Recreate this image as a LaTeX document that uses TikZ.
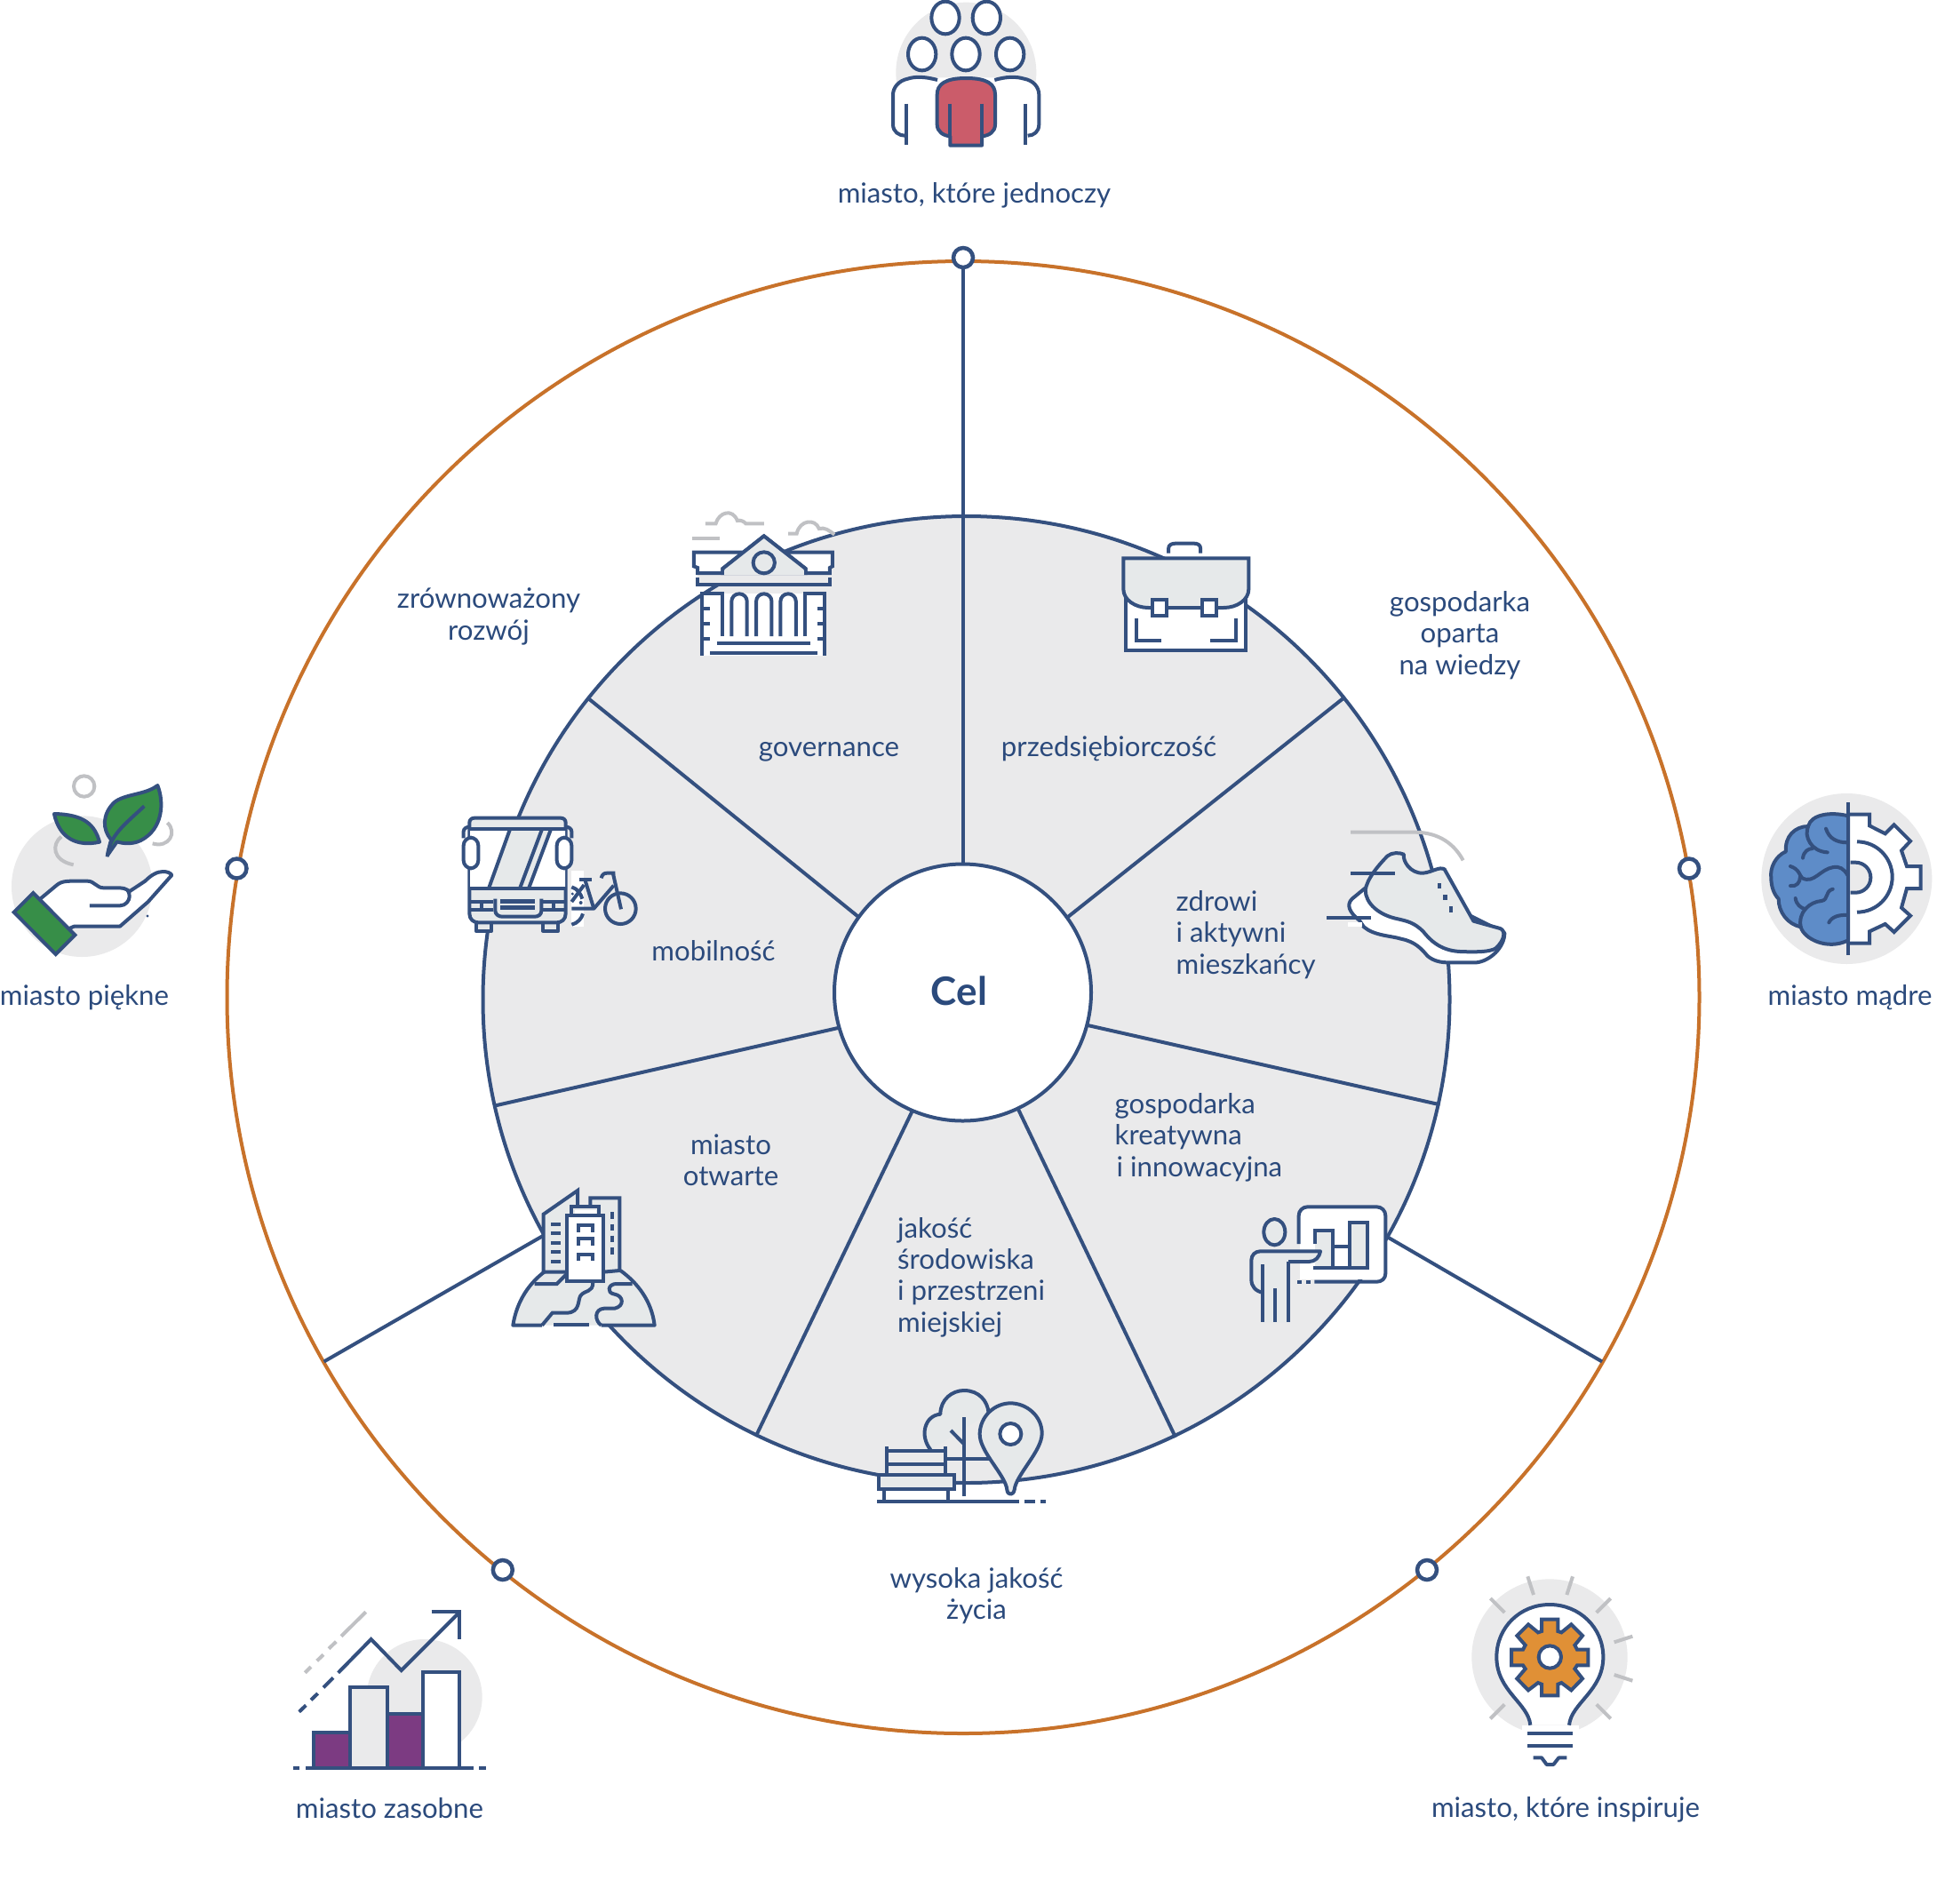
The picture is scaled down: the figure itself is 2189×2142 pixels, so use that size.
\documentclass[tikz,border=0pt]{standalone}
\usepackage{fontspec}
\setmainfont{Lato}
\definecolor{navy}{HTML}{34507F}
\definecolor{tnavy}{HTML}{2B4A7C}
\definecolor{ornge}{HTML}{C8722A}
\definecolor{disc}{HTML}{EAEAEB}
\definecolor{lite}{HTML}{E6E9EA}
\definecolor{gry}{HTML}{C0C1C4}
\definecolor{rd}{HTML}{CB5C6A}
\definecolor{grn}{HTML}{378E48}
\definecolor{prp}{HTML}{7C3B82}
\definecolor{blu}{HTML}{5E8CC8}
\definecolor{gearo}{HTML}{E09036}
\tikzset{
 zm/.style n args={3}{shift={(#1,#2)},x=#3pt,y=-#3pt},
 ln/.style={draw=navy,line width=4pt},
 gl/.style={draw=gry,line width=4pt},
 ic/.style={draw=navy,line width=4pt,line join=round},
 lab/.style={text=tnavy,font=\fontsize{31.2}{35.4}\selectfont,inner sep=0pt},
 joint/.style={circle,draw=navy,fill=white,line width=4.5pt,minimum size=22pt,inner sep=0pt},
}
\begin{document}
\begin{tikzpicture}[x=1pt,y=-1pt]
\useasboundingbox (0,0) rectangle (2189,2142);
\fill[white] (0,0) rectangle (2189,2142);
% rings
\node[circle,draw=ornge,line width=4pt,minimum size=1657pt,inner sep=0pt] (outer) at (1084,1122.5) {};
\node[circle,draw=navy,fill=disc,line width=4pt,minimum size=1088pt,inner sep=0pt] (inner) at (1087.5,1125) {};
% coordinates
\coordinate (t0) at (1084,290);
\coordinate (a1) at (1201.4,1032.4); \coordinate (b1) at (1513,785);
\coordinate (a2) at (1223.8,1153.9); \coordinate (b2) at (1620.5,1243.3);
\coordinate (a3) at (1145.5,1247.5); \coordinate (b3) at (1323,1617.7);
\coordinate (a4) at (1026.8,1250.3); \coordinate (b4) at (850.8,1616.3);
\coordinate (a5) at (944.4,1156.7); \coordinate (b5) at (556,1244.7);
\coordinate (a6) at (966.7,1032.4); \coordinate (b6) at (660.8,785);
\coordinate (c1) at (1561,1392); \coordinate (d1) at (1803,1532.5);
\coordinate (c2) at (611,1391); \coordinate (d2) at (364.6,1532.5);
\coordinate (a0) at (1084,975);
\draw[ln] (t0)--(a0);
\foreach \i in {1,...,6}{\draw[ln] (a\i)--(b\i);}
\draw[ln] (c1)--(d1); \draw[ln] (c2)--(d2);
\node[circle,draw=navy,fill=white,line width=4pt,minimum size=289pt,inner sep=0pt] (cel) at (1083.5,1117) {};
\node[text=tnavy,font=\fontsize{44}{50}\selectfont\bfseries,inner sep=0pt] (celt) at (1079.5,1115) {Cel};
% joints
\node[joint] (j0) at (1084,290) {};
\node[joint] (j1) at (266.5,977.5) {};
\node[joint] (j2) at (1901,977.5) {};
\node[joint] (j3) at (1606,1767) {};
\node[joint] (j4) at (565.8,1767) {};
% labels
\node[lab] (l1) at (1096.5,220) {miasto, które jednoczy};
\node[lab] (l2) at (95,1123) {miasto piękne};
\node[lab] (l3) at (2082,1123) {miasto mądre};
\node[lab] (l4) at (1762,2037) {miasto, które inspiruje};
\node[lab] (l5) at (438.5,2035) {miasto zasobne};
\node[lab,align=center] (l6) at (550,694) {zrównoważony\\rozwój};
\node[lab,align=center] (l7) at (1643,715) {gospodarka\\oparta\\na wiedzy};
\node[lab] (l8) at (933,846) {governance};
\node[lab] (l9) at (1248,843) {przedsiębiorczość};
\node[lab] (l10) at (803,1070) {mobilność};
\node[lab,align=left,anchor=west] (l11) at (1323.5,1052) {zdrowi\\i aktywni\\mieszkańcy};
\node[lab,align=left,anchor=west] (l12) at (1254.5,1280) {gospodarka\\kreatywna\\\hspace*{2pt}i innowacyjna};
\node[lab,align=left,anchor=west] (l13) at (1010,1437.5) {jakość\\środowiska\\i przestrzeni\\miejskiej};
\node[lab,align=center] (l14) at (822.5,1306) {miasto\\otwarte};
\node[lab,align=center] (l15) at (1099,1796) {wysoka jakość\\życia};
% ---- people
\begin{scope}[zm={950}{0}{0.33333}]
\fill[disc] (412,245) circle[radius=237];
\fill[white] (163,320) .. controls (163,285) and (190,262) .. (230,262) -- (590,262) .. controls (630,262) and (660,285) .. (660,320) -- (660,420) -- (625,492) -- (205,492) -- (163,420) -- cycle;
\foreach \p in {(342,60),(481,60),(263,183),(411,183),(560,183)}{\draw[ic,fill=white] \p ellipse[x radius=47,y radius=55];}
\draw[ic] (315,270) .. controls (270,258) and (240,258) .. (215,266) .. controls (185,272) and (165,295) .. (165,320) -- (165,420) .. controls (165,445) and (185,458) .. (205,458);
\draw[ic] (210,350)--(210,490);
\draw[ic] (508,270) .. controls (550,258) and (580,258) .. (608,266) .. controls (640,272) and (658,295) .. (658,320) -- (658,420) .. controls (658,445) and (640,458) .. (620,458);
\draw[ic] (612,350)--(612,490);
\draw[ic,fill=rd] (314,320) .. controls (314,285) and (340,264) .. (412,264) .. controls (485,264) and (510,285) .. (510,320) -- (510,420) .. controls (510,445) and (490,458) .. (465,460) -- (465,491) -- (358,491) -- (358,460) .. controls (335,458) and (314,445) .. (314,420) -- cycle;
\draw[ic] (358,350)--(358,460); \draw[ic] (465,350)--(465,460);
\end{scope}
% ---- plant & hand
\begin{scope}[zm={0}{850}{0.33333}]
\fill[disc] (277,443) circle[radius=238];
\draw[gl] (284,105) circle[radius=35];
\draw[gl] (207,275) .. controls (175,300) and (175,355) .. (248,370);
\draw[gl] (565,228) .. controls (600,260) and (570,315) .. (515,298);
\draw[ic,fill=grn] (183,198) .. controls (285,200) and (320,235) .. (336,293) .. controls (260,310) and (200,280) .. (183,198) -- cycle;
\draw[ic,fill=grn] (532,102) .. controls (555,160) and (550,250) .. (475,288) .. controls (450,300) and (420,300) .. (395,292) -- (365,335) .. controls (370,300) and (375,290) .. (375,285) .. controls (345,250) and (345,200) .. (385,160) .. controls (420,130) and (490,135) .. (532,102) -- cycle;
\draw[ic] (362,343) .. controls (370,270) and (420,235) .. (487,172);
\draw[ic,fill=white] (130,490) -- (190,440) .. controls (210,422) and (230,425) .. (295,425) .. controls (320,425) and (325,448) .. (350,448) -- (405,448) .. controls (425,448) and (437,460) .. (437,460) -- (490,425) .. controls (510,405) and (530,393) .. (550,393) .. controls (565,393) and (575,397) .. (580,405) -- (500,495) -- (405,578) -- (250,578) -- (200,600) -- cycle;
\draw[ic] (303,508) -- (405,508) .. controls (425,508) and (437,490) .. (437,478) .. controls (437,470) and (437,465) .. (430,455);
\draw[ic,fill=grn,line join=miter] (112,465) -- (253,607) -- (188,672) -- (47,530) -- cycle;
\fill[navy] (498,543) circle[radius=5];
\end{scope}
% ---- brain & gear
\begin{scope}[zm={1960}{870}{0.33333}]
\fill[disc] (355,357) circle[radius=288];
\draw[ic,fill=white,line join=miter] (360,140)--(432,140)--(432,178)--(485,205)--(515,175)--(570,230)--(540,262)--(558,315)--(605,315)--(605,390)--(558,390)--(540,455)--(570,482)--(515,537)--(485,510)--(432,535)--(432,575)--(360,575);
\draw[ic] (390,232) arc[start angle=-90,end angle=90,radius=119];
\draw[ic,fill=disc] (368,302) -- (385,302) arc[start angle=-90,end angle=90,radius=51] -- (368,404);
\draw[ic,fill=blu] (360,145) .. controls (300,130) and (235,140) .. (225,180) .. controls (180,180) and (145,215) .. (150,265) .. controls (115,280) and (95,320) .. (100,355) .. controls (100,385) and (110,410) .. (125,425) .. controls (125,470) and (155,510) .. (200,520) .. controls (210,560) and (290,600) .. (360,565) -- cycle;
\draw[ic,line cap=round] (225,180) .. controls (210,215) and (235,265) .. (290,268);
\draw[ic,line cap=round] (285,188) .. controls (295,220) and (320,235) .. (358,235);
\draw[ic,line cap=round] (207,287) .. controls (210,265) and (225,255) .. (240,255);
\draw[ic,line cap=round] (165,315) .. controls (195,325) and (195,345) .. (205,355) .. controls (245,375) and (265,325) .. (310,318) .. controls (330,315) and (345,322) .. (358,345);
\draw[ic,line cap=round] (165,381) .. controls (185,385) and (198,370) .. (198,350);
\draw[ic,line cap=round] (182,423) .. controls (185,445) and (200,455) .. (215,460);
\draw[ic,line cap=round] (200,520) .. controls (190,470) and (230,435) .. (270,432) .. controls (295,428) and (280,400) .. (308,392);
\draw[ic,line cap=round] (295,505) .. controls (305,485) and (330,478) .. (358,480);
\draw[ic] (360,100)--(360,615);
\end{scope}
% ---- bulb
\begin{scope}[zm={1620}{1750}{0.33333}]
\fill[disc] (372,345) circle[radius=263];
\fill[white] (280,575) rectangle (470,720);
\foreach \a/\b/\c/\d in {298/73/318/135,450/73/430/135,172/147/220/195,578/147/530/195,652/275/590/295,652/425/590/405,172/553/220/505,578/553/530/505}{\draw[gl] (\a,\b)--(\c,\d);}
\draw[ic,fill=white] (307,575) .. controls (300,500) and (193,460) .. (193,345) .. controls (193,245) and (272,168) .. (372,168) .. controls (472,168) and (553,245) .. (553,345) .. controls (553,460) and (445,500) .. (438,575);
\draw[ic] (297,604)--(450,604); \draw[ic] (297,645)--(450,645);
\draw[ic] (317,685)--(345,685)--(362,708)--(385,708)--(403,685)--(430,685);
\draw[ic,fill=gearo,line join=miter] (345,218)--(400,218)--(400,258)--(412,262)--(445,235)--(483,273)--(457,305)--(465,320)--(502,320)--(502,373)--(465,373)--(457,385)--(483,418)--(445,457)--(412,432)--(400,437)--(400,475)--(345,475)--(345,437)--(333,432)--(300,457)--(262,418)--(290,385)--(282,373)--(243,373)--(243,320)--(282,320)--(290,305)--(262,273)--(300,235)--(333,262)--(345,258)--cycle;
\draw[ic,fill=white] (373,345) circle[radius=38];
\end{scope}
% ---- chart
\begin{scope}[zm={310}{1790}{0.33333}]
\fill[disc] (503,360) circle[radius=195];
\foreach \a/\b/\c/\d in {100/278/120/258,140/238/162/217,180/197/205/173,222/155/305/73}{\draw[gl] (\a,\b)--(\c,\d);}
\foreach \a/\b/\c/\d in {80/410/103/388,120/370/143/348,162/328/195/295}{\draw[ic] (\a,\b)--(\c,\d);}
\draw[ln,line join=miter] (212,278)--(323,165)--(425,270)--(620,75);
\draw[ln,line join=miter] (527,73)--(621,73)--(621,165);
\draw[ln,fill=prp,line join=miter] (130,480) rectangle (253,600);
\draw[ln,fill=disc,line join=miter] (253,327) rectangle (377,600);
\draw[ln,fill=prp,line join=miter] (377,418) rectangle (497,600);
\draw[ln,fill=white,line join=miter] (497,277) rectangle (620,600);
\draw[ln] (60,601)--(82,601); \draw[ln] (102,601)--(668,601); \draw[ln] (688,601)--(710,601);
\end{scope}
% ---- governance building
\begin{scope}[zm={770}{560}{0.43365},y=-0.33333pt]
\draw[gl] (20,138)--(92,138);
\draw[gl] (55,88)--(82,88) .. controls (90,50) and (125,35) .. (138,78) .. controls (145,75) and (155,80) .. (160,88) -- (207,88);
\draw[gl] (270,122)--(292,122) .. controls (300,75) and (340,70) .. (350,105) .. controls (365,100) and (375,110) .. (390,125);
\fill[disc] (35,255) rectangle (378,295);
\draw[ic,fill=white,line join=miter] (25,185)--(385,185)--(385,232)--(378,237)--(378,255)--(315,255)--(315,240)--(207,130)--(100,240)--(100,255)--(35,255)--(35,237)--(25,232)--cycle;
\draw[ic,fill=lite,line join=miter] (207,130)--(315,240)--(315,255)--(100,255)--(100,240)--cycle;
\fill[lite] (103,245) rectangle (312,262);
\draw[ic,fill=lite] (207,220) ellipse[x radius=28,y radius=36];
\draw[ic,line join=miter] (35,270)--(35,295)--(378,295)--(378,270);
\fill[white] (47,325) rectangle (365,533);
\draw[ic,line join=miter] (100,468)--(100,325)--(47,325)--(47,533);
\draw[ic,line join=miter] (313,468)--(313,325)--(365,325)--(365,533);
\foreach \y in {375,427,477}{\draw[ic] (47,\y)--(66,\y); \draw[ic] (347,\y)--(365,\y);}
\foreach \a in {123,187,250}{\draw[ic] (\a,468)--(\a,350) arc[start angle=180,end angle=360,x radius=20,y radius=25] -- ({\a+40},468);}
\draw[ic] (85,492)--(327,492); \draw[ic] (67,525)--(347,525);
% briefcase
\draw[ic,fill=white,line join=miter] (1147,330)--(1147,517)--(1458,517)--(1458,330);
\draw[ic] (1257,188)--(1257,172) .. controls (1257,160) and (1265,155) .. (1275,155) -- (1323,155) .. controls (1333,155) and (1340,160) .. (1340,172) -- (1340,188);
\draw[ic,fill=lite,line join=miter] (1140,205)--(1465,205)--(1465,310) .. controls (1465,345) and (1435,372) .. (1400,372) -- (1205,372) .. controls (1170,372) and (1140,345) .. (1140,310) -- cycle;
\draw[ic,fill=white,line join=miter] (1216,345) rectangle (1252,400);
\draw[ic,fill=white,line join=miter] (1345,345) rectangle (1381,400);
\draw[ic,line join=miter] (1173,407)--(1173,482)--(1238,482);
\draw[ic,line join=miter] (1365,482)--(1431,482)--(1431,407);
\end{scope}
% ---- bus and bike
\begin{scope}[zm={500}{900}{0.33333}]
\fill[white] (430,240) rectangle (470,430);
\draw[ic] (595,368) circle[radius=52];
\draw[ic] (570,250)--(597,370);
\draw[ic] (530,265) .. controls (533,252) and (540,248) .. (550,248) -- (577,248);
\draw[ic] (430,368)--(505,368)--(572,290);
\draw[ic] (455,270)--(497,270); \draw[ic] (475,270)--(505,368);
\draw[ic] (430,345)--(472,288);
\draw[ic] (430,295) .. controls (450,300) and (462,320) .. (466,335);
\draw[ic] (430,422) .. controls (450,418) and (465,400) .. (468,385);
\fill[navy] (461,348) circle[radius=6]; \fill[navy] (433,318) circle[radius=5];
\draw[ic,fill=lite] (107,415)--(107,443)--(160,443)--(160,415);
\draw[ic,fill=lite] (333,415)--(333,443)--(385,443)--(385,415);
\draw[ic,fill=lite] (85,100)--(85,78) .. controls (85,68) and (92,62) .. (102,62) -- (393,62) .. controls (403,62) and (410,68) .. (410,78) -- (410,385) .. controls (410,405) and (395,415) .. (380,415) -- (115,415) .. controls (100,415) and (85,405) .. (85,385) -- cycle;
\fill[white] (87,102)--(220,102)--(150,298)--(87,298)--cycle;
\fill[white] (330,102)--(408,102)--(408,298)--(255,298)--cycle;
\fill[lite] (285,298)--(360,102)--(330,102)--(255,298)--cycle;
\draw[ic] (85,100)--(410,100); \draw[ic] (85,300)--(410,300);
\draw[ic] (222,100)--(150,300); \draw[ic] (330,100)--(255,300); \draw[ic] (360,100)--(285,300);
\draw[ic] (65,130)--(65,108) .. controls (65,98) and (75,92) .. (85,92);
\draw[ic] (430,130)--(430,108) .. controls (430,98) and (420,92) .. (410,92);
\draw[ic,fill=white,rounded corners=9pt] (65,128) rectangle (115,232);
\draw[ic,fill=white,rounded corners=9pt] (380,128) rectangle (430,232);
\draw[ic] (85,345)--(165,345); \draw[ic] (85,372)--(165,372); \draw[ic] (125,345)--(125,372);
\draw[ic] (330,345)--(410,345); \draw[ic] (330,372)--(410,372); \draw[ic] (368,345)--(368,372);
\draw[ic] (172,335)--(172,375) .. controls (172,388) and (185,395) .. (195,395) -- (305,395) .. controls (318,395) and (328,388) .. (328,375) -- (328,335);
\draw[ic,line width=5pt] (190,343)--(305,343); \draw[ic,line width=5pt] (190,365)--(305,365);
\end{scope}
% ---- shoe
\begin{scope}[zm={1480}{910}{0.33333}]
\draw[gl] (120,80)--(340,80) .. controls (420,82) and (470,120) .. (500,175);
\draw[ic,fill=white] (170,268) -- (125,305) .. controls (105,325) and (115,350) .. (150,378) -- (165,400) .. controls (200,430) and (260,430) .. (290,440) .. controls (340,450) and (360,475) .. (380,498) .. controls (400,515) and (425,520) .. (450,520) -- (545,520) .. controls (590,515) and (640,470) .. (640,420) -- (400,300) -- cycle;
\fill[white] (110,385) rectangle (160,398);
\draw[ic,fill=lite] (170,275) .. controls (175,240) and (210,195) .. (245,160) .. controls (260,148) and (285,148) .. (300,155) .. controls (295,175) and (320,220) .. (365,218) .. controls (395,215) and (420,195) .. (437,205) -- (535,380) -- (625,405) .. controls (645,412) and (640,445) .. (610,472) .. controls (590,485) and (540,485) .. (490,483) .. controls (420,480) and (385,440) .. (365,415) .. controls (335,385) and (310,380) .. (280,373) .. controls (215,360) and (170,320) .. (170,275) -- cycle;
\draw[ln] (120,220)--(270,220); \draw[ln] (40,370)--(190,370);
\fill[navy] (413,252) rectangle (426,270);
\fill[navy] (433,291) rectangle (446,310);
\fill[navy] (453,331) rectangle (466,350);
\end{scope}
% ---- presenter
\begin{scope}[zm={1390}{1340}{0.33333}]
\fill[white] (218,60) rectangle (505,300);
\draw[ic] (215,180)--(215,85) .. controls (215,68) and (228,55) .. (245,55) -- (478,55) .. controls (495,55) and (508,68) .. (508,85) -- (508,280) .. controls (508,297) and (495,308) .. (478,308) -- (268,308);
\draw[ln] (210,308)--(226,308); \draw[ln] (240,308)--(256,308);
\draw[ic,fill=lite,line join=miter] (387,262)--(387,107)--(447,107)--(447,262)--cycle;
\draw[ic,fill=lite,line join=miter] (270,180)--(270,135)--(330,135)--(330,262)--(270,262);
\draw[ln] (330,190)--(387,190); \draw[ln] (265,262)--(447,262);
\draw[ic,fill=lite] (133,140) ellipse[x radius=36,y radius=44];
\fill[lite] (55,235) .. controls (55,218) and (68,205) .. (85,205) -- (288,205) .. controls (285,225) and (270,240) .. (250,240) -- (180,240) -- (180,445) -- (93,445) -- (93,345) .. controls (70,340) and (55,325) .. (55,300) -- cycle;
\draw[ic] (95,345) .. controls (70,340) and (55,325) .. (55,300) -- (55,235) .. controls (55,218) and (68,205) .. (85,205) -- (288,205) .. controls (285,225) and (270,240) .. (250,240) -- (180,240);
\draw[ln] (93,250)--(93,445); \draw[ln] (136,330)--(136,445); \draw[ln] (180,240)--(180,445);
\end{scope}
% ---- park
\begin{scope}[zm={970}{1550}{0.33333}]
\draw[ic,fill=lite] (232,245) .. controls (195,200) and (210,130) .. (265,125) .. controls (265,75) and (305,45) .. (345,45) .. controls (395,45) and (425,80) .. (428,122);
\fill[white] (110,362) rectangle (495,419);
\draw[ic] (344,135)--(344,402); \draw[ic] (300,180)--(344,225); \draw[ic] (285,275)--(430,275);
\draw[ic,fill=lite] (490,380) .. controls (485,330) and (395,250) .. (398,190) .. controls (400,130) and (450,88) .. (502,88) .. controls (555,88) and (608,130) .. (608,190) .. controls (608,250) and (520,330) .. (515,380) .. controls (512,400) and (492,400) .. (490,380) -- cycle;
\draw[ic,fill=white] (502,192) circle[radius=36];
\draw[ln] (85,235)--(85,330); \draw[ln] (282,235)--(282,330);
\draw[ln] (85,250)--(282,250); \draw[ln] (85,295)--(282,295);
\draw[ic,fill=lite,line join=miter] (57,330) rectangle (312,377);
\draw[ln] (75,377)--(75,420); \draw[ln] (290,377)--(290,420);
\draw[ln] (52,421)--(530,421); \draw[ln] (550,421)--(585,421); \draw[ln] (603,421)--(620,421);
\end{scope}
% ---- city
\begin{scope}[zm={570}{1330}{0.33333}]
\fill[lite] (22,485) .. controls (35,400) and (80,340) .. (130,303) -- (385,300) .. controls (440,340) and (490,400) .. (500,485) -- cycle;
\draw[ic] (120,485) -- (22,485) .. controls (35,400) and (80,340) .. (130,303);
\draw[ic] (385,300) .. controls (440,340) and (490,400) .. (500,485) -- (320,485);
\draw[ln] (160,483)--(278,483);
\draw[ic,line join=miter] (120,485)--(155,443)--(205,443) .. controls (250,440) and (240,400) .. (250,385) .. controls (265,365) and (292,375) .. (292,340);
\draw[ic] (320,485) .. controls (298,470) and (295,430) .. (330,428) -- (365,428) .. controls (400,420) and (395,385) .. (365,380) .. controls (335,375) and (345,345) .. (370,345) -- (425,345);
\draw[ic,line join=miter] (95,345)--(170,345)--(205,310);
\draw[ic,fill=lite,line join=miter] (125,305)--(125,110)--(240,30)--(240,90)--(283,90)--(283,55)--(382,55)--(382,300)--(327,305)--cycle;
\draw[ic,fill=lite,line join=miter] (220,115)--(220,85)--(312,85)--(312,115);
\fill[white] (230,96) rectangle (302,110);
\draw[ic,fill=white,line join=miter] (205,115) rectangle (327,335);
\foreach \y in {143,175,207,238,270}{\draw[ln] (150,\y)--(182,\y);}
\foreach \y in {103,143,182,222}{\draw[ln] (356,\y)--(356,\y+23);}
\foreach \y in {170,215,268}{\draw[ic,line join=miter] (243,\y)--(243,\y-22)--(290,\y-22)--(290,\y);}
\end{scope}
\end{tikzpicture}
\end{document}
